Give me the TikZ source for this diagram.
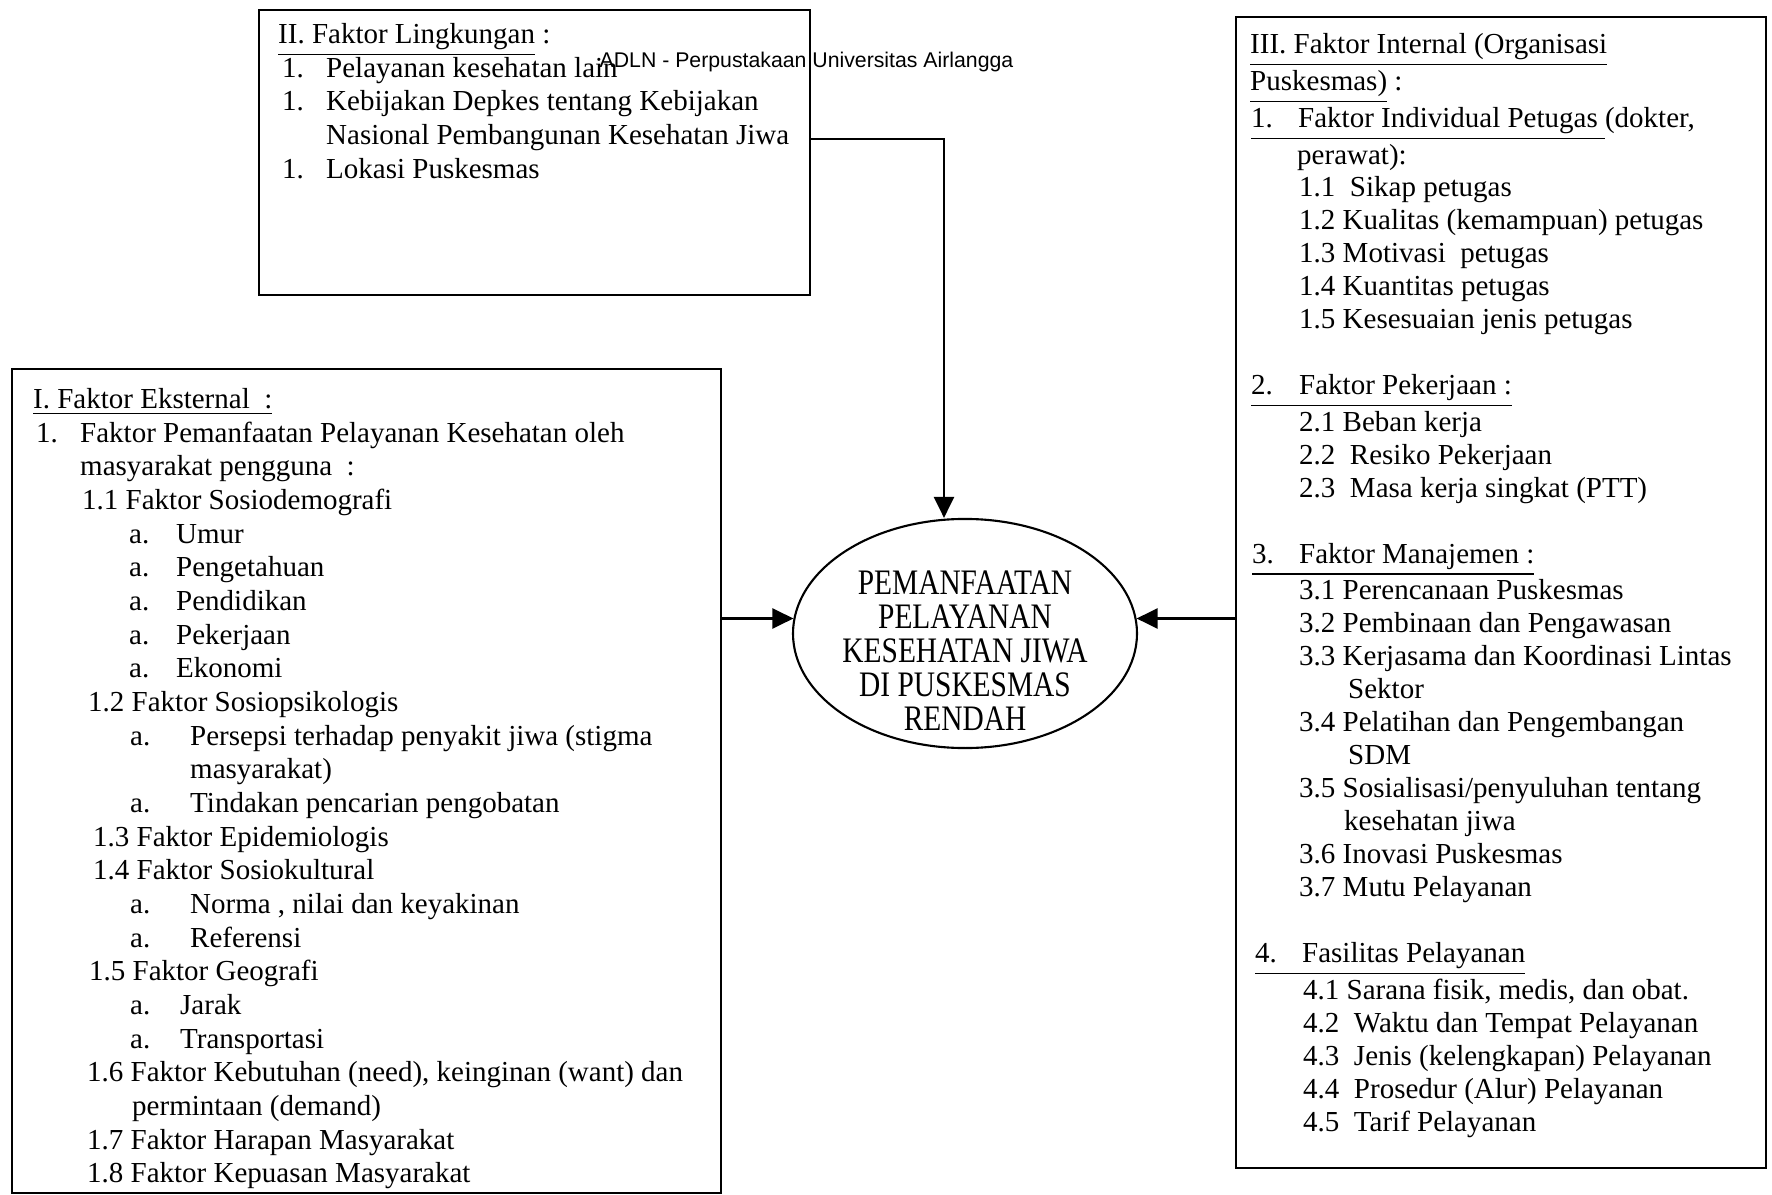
\documentclass[tikz,border=0pt]{standalone}
\usepackage{fontspec}
\setmainfont{Liberation Serif}
\newfontfamily\markfont{Liberation Sans}
\newfontfamily\ovalfont{Liberation Serif}[FakeStretch=0.82]
\usepackage{tikz}
\usetikzlibrary{shapes.geometric, arrows.meta, positioning}

\newcommand{\setx}[1]{\hspace*{#1mm}}
\newcommand{\lab}[3]{\hspace*{#1mm}\makebox[\dimexpr#2mm-#1mm\relax][l]{#3}}

\begin{document}
\begin{tikzpicture}[
    panel/.style={rectangle, draw, line width=0.7pt, anchor=north west, inner sep=0pt},
    oval/.style={ellipse, draw, line width=0.6pt, minimum width=3.44cm, minimum height=2.29cm, inner sep=0pt, font=\ovalfont\fontsize{10.2}{9.67}\selectfont},
    arrow/.style={-{Triangle[length=0.21cm, width=0.2cm]}, line width=0.7pt}
]
\useasboundingbox (0,0) rectangle (17.72,11.94);

\node[panel, font=\fontsize{8.25}{9.58}\selectfont] (env) at (2.58,11.85) {\parbox[t][2.85cm][t]{5.51cm}{\vspace*{0.13cm}%
\setx{1.9}\underline{II. Faktor Lingkungan} :\\
\lab{2.3}{6.7}{1.}Pelayanan kesehatan lain\\
\lab{2.3}{6.7}{1.}Kebijakan Depkes tentang Kebijakan\\
\setx{6.7}Nasional Pembangunan Kesehatan Jiwa\\
\lab{2.3}{6.7}{1.}Lokasi Puskesmas}};

\node[panel, font=\fontsize{8.25}{9.58}\selectfont] (ext) at (0.11,8.26) {\parbox[t][8.24cm][t]{7.09cm}{\vspace*{0.19cm}%
\setx{2.1}\underline{I. Faktor Eksternal\ \ :}\\
\lab{2.4}{6.8}{1.}Faktor Pemanfaatan Pelayanan Kesehatan oleh\\
\setx{6.8}masyarakat pengguna\ \ :\\
\setx{7.0}1.1 Faktor Sosiodemografi\\
\lab{11.7}{16.4}{a.}Umur\\
\lab{11.7}{16.4}{a.}Pengetahuan\\
\lab{11.7}{16.4}{a.}Pendidikan\\
\lab{11.7}{16.4}{a.}Pekerjaan\\
\lab{11.7}{16.4}{a.}Ekonomi\\
\setx{7.6}1.2 Faktor Sosiopsikologis\\
\lab{11.8}{17.8}{a.}Persepsi terhadap penyakit jiwa (stigma\\
\setx{17.8}masyarakat)\\
\lab{11.8}{17.8}{a.}Tindakan pencarian pengobatan\\
\setx{8.1}1.3 Faktor Epidemiologis\\
\setx{8.1}1.4 Faktor Sosiokultural\\
\lab{11.8}{17.8}{a.}Norma , nilai dan keyakinan\\
\lab{11.8}{17.8}{a.}Referensi\\
\setx{7.7}1.5 Faktor Geografi\\
\lab{11.8}{16.8}{a.}Jarak\\
\lab{11.8}{16.8}{a.}Transportasi\\
\setx{7.5}1.6 Faktor Kebutuhan (need), keinginan (want) dan\\
\setx{12.0}permintaan (demand)\\
\setx{7.5}1.7 Faktor Harapan Masyarakat\\
\setx{7.5}1.8 Faktor Kepuasan Masyarakat}};

\node[panel, font=\fontsize{8.25}{9.37}\selectfont] (int) at (12.35,11.78) {\parbox[t][11.51cm][t]{5.30cm}{\vspace*{0.16cm}%
\setx{1.4}\underline{III. Faktor Internal (Organisasi}\\
\setx{1.4}\underline{Puskesmas)} :\\
\setx{1.5}\underline{\makebox[4.7mm][l]{1.}Faktor Individual Petugas\ }(dokter,\\
\setx{6.1}perawat):\\
\setx{6.3}1.1\ \ Sikap petugas\\
\setx{6.3}1.2 Kualitas (kemampuan) petugas\\
\setx{6.3}1.3 Motivasi\ \ petugas\\
\setx{6.3}1.4 Kuantitas petugas\\
\setx{6.3}1.5 Kesesuaian jenis petugas\\[\baselineskip]
\setx{1.5}\underline{\makebox[4.8mm][l]{2.}Faktor Pekerjaan :}\\
\setx{6.3}2.1 Beban kerja\\
\setx{6.3}2.2\ \ Resiko Pekerjaan\\
\setx{6.3}2.3\ \ Masa kerja singkat (PTT)\\[\baselineskip]
\setx{1.6}\underline{\makebox[4.7mm][l]{3.}Faktor Manajemen :}\\
\setx{6.3}3.1 Perencanaan Puskesmas\\
\setx{6.3}3.2 Pembinaan dan Pengawasan\\
\setx{6.3}3.3 Kerjasama dan Koordinasi Lintas\\
\setx{11.2}Sektor\\
\setx{6.3}3.4 Pelatihan dan Pengembangan\\
\setx{11.2}SDM\\
\setx{6.3}3.5 Sosialisasi/penyuluhan tentang\\
\setx{10.8}kesehatan jiwa\\
\setx{6.3}3.6 Inovasi Puskesmas\\
\setx{6.3}3.7 Mutu Pelayanan\\[\baselineskip]
\setx{1.9}\underline{\makebox[4.7mm][l]{4.}Fasilitas Pelayanan}\\
\setx{6.7}4.1 Sarana fisik, medis, dan obat.\\
\setx{6.7}4.2\ \ Waktu dan Tempat Pelayanan\\
\setx{6.7}4.3\ \ Jenis (kelengkapan) Pelayanan\\
\setx{6.7}4.4\ \ Prosedur (Alur) Pelayanan\\
\setx{6.7}4.5\ \ Tarif Pelayanan}};

\node[oval] (cen) at (9.65,5.605) {\parbox[c][1.62cm][t]{2.43cm}{\vspace*{0.18cm}%
\makebox[\linewidth]{\begin{tabular}[t]{@{}c@{}}
PEMANFAATAN\\ PELAYANAN\\ KESEHATAN JIWA\\ DI PUSKESMAS\\ RENDAH
\end{tabular}}}};

\node[font=\markfont\fontsize{6.05}{7}\selectfont, anchor=west, inner sep=0pt] (mark) at (5.99,11.32) {ADLN - Perpustakaan Universitas Airlangga};

\draw[arrow] ([yshift=0.135cm]env.east) -| ([xshift=-0.21cm]cen.north);
\draw[arrow] (ext.east |- cen.175) -- (cen.175);
\draw[arrow] (int.west |- cen.5) -- (cen.5);
\end{tikzpicture}
\end{document}
